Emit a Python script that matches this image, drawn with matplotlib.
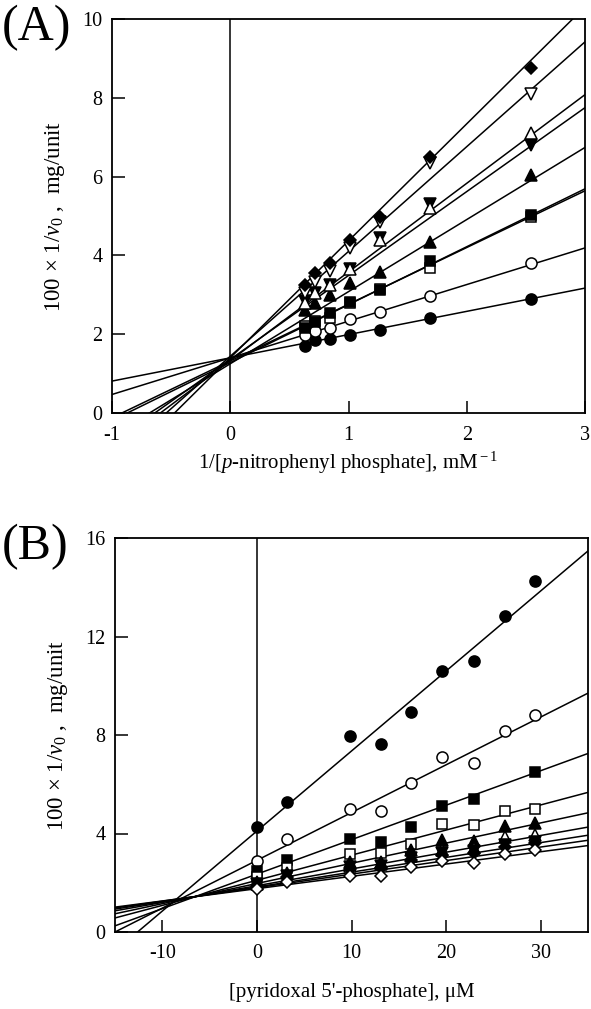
import numpy as np
import matplotlib
matplotlib.use("Agg")
import matplotlib.pyplot as plt

plt.rcParams['font.family'] = ['Liberation Serif', 'DejaVu Serif']
plt.rcParams['mathtext.fontset'] = 'custom'
plt.rcParams['mathtext.rm'] = 'Liberation Serif'
plt.rcParams['mathtext.it'] = 'Liberation Serif:italic'
plt.rcParams['axes.unicode_minus'] = False

# ---------------- Panel A data ----------------
a_x = [0.63, 0.72, 0.84, 1.01, 1.27, 1.69, 2.54]
a_filled_circle = [1.70, 1.85, 1.87, 1.98, 2.10, 2.42, 2.89]
a_open_circle = [1.97, 2.07, 2.17, 2.38, 2.57, 2.97, 3.80]
a_open_square = [2.22, 2.33, 2.40, 2.78, 3.15, 3.69, 4.97]
a_filled_square = [2.15, 2.30, 2.55, 2.82, 3.12, 3.86, 5.02]
a_filled_up = [2.62, 2.78, 3.00, 3.29, 3.59, 4.35, 6.05]
a_filled_down = [2.85, 3.04, 3.25, 3.65, 4.45, 5.30, 6.80]
a_open_up = [2.80, 3.04, 3.25, 3.65, 4.40, 5.20, 7.10]
a_open_down = [3.05, 3.33, 3.60, 4.20, 4.85, 6.35, 8.10]
a_filled_diamond = [3.25, 3.55, 3.80, 4.40, 4.97, 6.50, 8.75]
# fitted lines (intercept at x=0, slope)
a_intercepts = [1.40, 1.40, 1.32, 1.28, 1.25, 1.36, 1.33, 1.44, 1.40]
a_slopes = [0.59, 0.93, 1.44, 1.47, 1.83, 2.13, 2.25, 2.66, 2.97]
a_xticks = [-1, 0, 1, 2, 3]
a_yticks = [0, 2, 4, 6, 8, 10]

# ---------------- Panel B data ----------------
b_x = [0, 3.2, 9.8, 13.1, 16.3, 19.6, 22.9, 26.2, 29.4]
b_filled_circle = [4.25, 5.29, 7.95, 7.65, 8.95, 10.61, 11.02, 12.83, 14.25]
b_open_circle = [2.90, 3.78, 4.98, 4.93, 6.05, 7.10, 6.85, 8.15, 8.80]
b_filled_square = [2.48, 2.92, 3.78, 3.64, 4.28, 5.13, 5.40, np.nan, 6.50]
b_open_square = [2.24, 2.58, 3.17, 3.19, 3.57, 4.39, 4.35, 4.91, 4.98]
b_filled_up = [2.04, 2.38, 2.85, 2.85, 3.33, 3.74, 3.70, 4.30, 4.44]
b_open_up = [1.95, 2.25, 2.70, 2.75, 3.10, 3.35, 3.40, 3.87, 3.94]
b_filled_down = [1.95, 2.28, 2.62, 2.66, 3.00, 3.22, 3.28, 3.55, 3.66]
b_filled_diamond = [1.91, 2.25, 2.55, 2.58, 2.92, 3.13, 3.20, 3.46, 3.60]
b_open_diamond = [1.73, 2.04, 2.27, 2.27, 2.65, 2.88, 2.82, 3.17, 3.33]
b_intercepts = [4.10, 2.91, 2.35, 2.10, 1.97, 1.88, 1.83, 1.80, 1.76]
b_slopes = [0.325, 0.194, 0.140, 0.102, 0.082, 0.068, 0.060, 0.055, 0.050]
b_xticks = [-10, 0, 10, 20, 30]
b_yticks = [0, 4, 8, 12, 16]

# marker styles: (marker, facecolor, size)
styles = {
    'fc': ('o', 'black', 8), 'oc': ('o', 'white', 8),
    'fs': ('s', 'black', 7.5), 'os': ('s', 'white', 7.5),
    'fu': ('^', 'black', 8), 'ou': ('^', 'white', 8),
    'fd': ('v', 'black', 8), 'od': ('v', 'white', 8),
    'fD': ('D', 'black', 6.5), 'oD': ('D', 'white', 6.5),
}

a_series = [('fc', a_filled_circle), ('oc', a_open_circle), ('os', a_open_square),
            ('fs', a_filled_square), ('fu', a_filled_up), ('fd', a_filled_down),
            ('ou', a_open_up), ('od', a_open_down), ('fD', a_filled_diamond)]
b_series = [('fc', b_filled_circle), ('oc', b_open_circle), ('fs', b_filled_square),
            ('os', b_open_square), ('fu', b_filled_up), ('ou', b_open_up),
            ('fd', b_filled_down), ('fD', b_filled_diamond), ('oD', b_open_diamond)]

W, H = 591, 1009
fig = plt.figure(figsize=(W / 100, H / 100), dpi=100)
axA = fig.add_axes([112 / W, 1 - 413 / H, (585 - 112) / W, (413 - 19) / H])
axB = fig.add_axes([115 / W, 1 - 932 / H, (588 - 115) / W, (932 - 538) / H])


def draw(ax, xs, series, intercepts, slopes, xlim, ylim, xticks, yticks):
    ax.set_xlim(*xlim)
    ax.set_ylim(*ylim)
    xx = np.array(xlim, dtype=float)
    for b, m in zip(intercepts, slopes):
        ax.plot(xx, b + m * xx, color='black', lw=1.1, zorder=2, clip_on=True)
    for key, ys in series:
        mk, fc, ms = styles[key]
        ax.plot(xs, ys, linestyle='none', marker=mk, markerfacecolor=fc,
                markeredgecolor='black', markeredgewidth=1.1, markersize=ms, zorder=3)
    ax.axvline(0, color='black', lw=1.1, zorder=1)
    ax.set_xticks(xticks)
    ax.set_yticks(yticks)
    ax.tick_params(axis='x', direction='in', length=9, width=1.1, labelsize=14.5, pad=9,
                   top=False)
    ax.tick_params(axis='y', direction='in', length=9, width=1.1, labelsize=14.5, pad=7,
                   right=False)
    for s in ax.spines.values():
        s.set_linewidth(1.3)


draw(axA, a_x, a_series, a_intercepts, a_slopes, (-1, 3), (0, 10), a_xticks, a_yticks)
draw(axB, b_x, b_series, b_intercepts, b_slopes, (-15, 35), (0, 16), b_xticks, b_yticks)

ylab = r'100 × 1/$\mathit{v}_0$ ,  mg/unit'
axA.set_ylabel(ylab, fontsize=16.5, labelpad=11)
axB.set_ylabel(ylab, fontsize=16.5, labelpad=11)
axA.set_xlabel(r'1/[$\mathit{p}$-nitrophenyl phosphate], mM$^{\rm -1}$', fontsize=15, labelpad=4)
axB.set_xlabel("[pyridoxal 5'-phosphate], μM", fontsize=15, labelpad=14)

fig.text(2 / W, 1 - 28 / H, '(A)', fontsize=36, va='center', ha='left')
fig.text(2 / W, 1 - 547 / H, '(B)', fontsize=36, va='center', ha='left')

fig.savefig('out.png', dpi=100)
